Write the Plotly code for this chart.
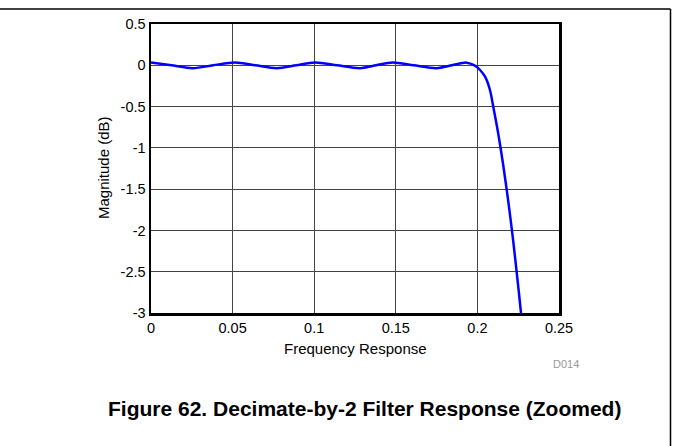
import plotly.graph_objects as go

# ---- data ----
freq = [0.0, 0.0125, 0.0257, 0.038, 0.0515, 0.064, 0.077, 0.089, 0.1005, 0.114,
        0.128, 0.138, 0.148, 0.161, 0.175, 0.1845, 0.1934, 0.1985, 0.2016, 0.2047,
        0.2077, 0.2097, 0.2127, 0.2159, 0.219, 0.2219, 0.2247, 0.2263, 0.228]
mag_db = [0.035, 0.0, -0.035, 0.0, 0.035, 0.0, -0.035, 0.0, 0.035, 0.0,
          -0.035, 0.0, 0.035, 0.0, -0.035, 0.0, 0.032, -0.005, -0.057, -0.138,
          -0.299, -0.50, -0.82, -1.22, -1.66, -2.12, -2.62, -2.92, -3.25]

x_ticks = [0, 0.05, 0.1, 0.15, 0.2, 0.25]
x_tick_labels = ["0", "0.05", "0.1", "0.15", "0.2", "0.25"]
y_ticks = [0.5, 0, -0.5, -1, -1.5, -2, -2.5, -3]
y_tick_labels = ["0.5", "0", "-0.5", "-1", "-1.5", "-2", "-2.5", "-3"]

title_text = "Figure 62. Decimate-by-2 Filter Response (Zoomed)"
x_title = "Frequency Response"
y_title = "Magnitude (dB)"
code_text = "D014"

FONT = "Liberation Sans, Arial, sans-serif"

fig = go.Figure()
fig.add_trace(go.Scatter(
    x=freq, y=mag_db, mode="lines",
    line=dict(color="#0000FF", width=2.5, shape="spline", smoothing=0.8),
    hoverinfo="skip", showlegend=False,
))

W, H = 673, 446
L, R, T, B = 151, 559, 24, 313
pw, ph = R - L, B - T

def px(xp):
    return (xp - L) / pw

def py(yp):
    return (B - yp) / ph

fig.update_layout(
    width=W, height=H,
    margin=dict(l=L, r=W - R, t=T, b=H - B, pad=0),
    paper_bgcolor="white", plot_bgcolor="white",
    font=dict(family=FONT, size=14.5, color="black"),
    showlegend=False,
    xaxis=dict(
        range=[0, 0.25], tickvals=x_ticks, ticktext=x_tick_labels,
        showgrid=True, gridcolor="#444444", gridwidth=1,
        showline=True, linecolor="black", linewidth=2.5, mirror=True,
        ticks="", ticklen=0, zeroline=False, fixedrange=True,
        tickfont=dict(family=FONT, size=14.5, color="black"),
    ),
    yaxis=dict(
        range=[-3, 0.5], tickvals=y_ticks, ticktext=y_tick_labels,
        showgrid=True, gridcolor="#444444", gridwidth=1,
        showline=True, linecolor="black", linewidth=2.5, mirror=True,
        ticks="", ticklen=0, zeroline=False, fixedrange=True,
        tickfont=dict(family=FONT, size=14.5, color="black"),
    ),
)

annotations = [
    dict(text=x_title, x=0.5, y=py(348), xref="paper", yref="paper",
         showarrow=False, xanchor="center", yanchor="middle",
         font=dict(family=FONT, size=15, color="black")),
    dict(text=y_title, x=px(103), y=py(168), xref="paper", yref="paper",
         showarrow=False, xanchor="center", yanchor="middle", textangle=-90,
         font=dict(family=FONT, size=15, color="black")),
    dict(text=code_text, x=px(566), y=py(364), xref="paper", yref="paper",
         showarrow=False, xanchor="center", yanchor="middle",
         font=dict(family=FONT, size=11, color="#999999")),
    dict(text="<b>" + title_text + "</b>", x=px(364), y=py(408), xref="paper", yref="paper",
         showarrow=False, xanchor="center", yanchor="middle",
         font=dict(family=FONT, size=21, color="black")),
]
fig.update_layout(annotations=annotations)

# page frame (top rule and right rule)
fig.add_shape(type="line", xref="paper", yref="paper",
              x0=px(0), y0=py(9), x1=px(670.5), y1=py(9),
              line=dict(color="black", width=1.5))
fig.add_shape(type="line", xref="paper", yref="paper",
              x0=px(670.5), y0=py(9), x1=px(670.5), y1=py(446),
              line=dict(color="black", width=1.5))

fig.write_html(
    "out.html",
    config={"displayModeBar": False, "staticPlot": True},
    post_script="document.body.style.margin='0';document.body.style.padding='0';"
                "document.body.style.overflow='hidden';",
)
